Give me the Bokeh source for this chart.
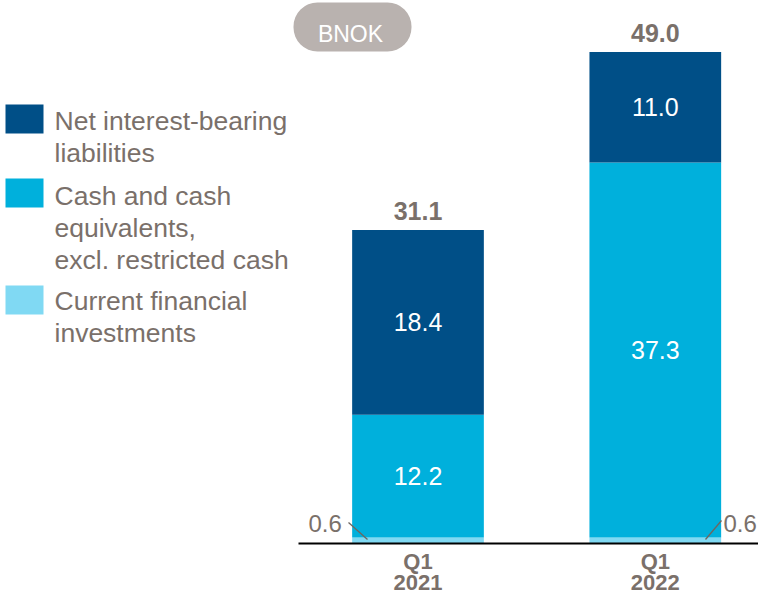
import numpy as np
from bokeh.plotting import figure
from bokeh.models import Range1d, BoxAnnotation
from bokeh.core.properties import value
from bokeh.embed import file_html
from bokeh.resources import INLINE

# ---------------- data ----------------
quarters = ["Q1", "Q1"]
years = ["2021", "2022"]
current_fin = [0.6, 0.6]          # Current financial investments
cash = [12.2, 37.3]               # Cash and cash equivalents, excl. restricted cash
net_debt = [18.4, 11.0]           # Net interest-bearing liabilities
totals = ["31.1", "49.0"]
unit_label = "BNOK"
legend_lines = [
    ["Net interest-bearing", "liabilities"],
    ["Cash and cash", "equivalents,", "excl. restricted cash"],
    ["Current financial", "investments"],
]

# ---------------- style ----------------
C_DARK = "#004f87"
C_CYAN = "#00b0dc"
C_LIGHT = "#80d9f3"
C_TEXT = "#7a706a"
FONT = "Liberation Sans"

W, H = 758, 597
PX_PER_UNIT = 10.05
BASE_Y = 543          # pixel row of the zero line
BAR1_X = 417.5        # pixel centre of first bar
SPACING = 237.3
BAR_W = 0.555

x0 = -BAR1_X / SPACING
x1 = x0 + W / SPACING
y0 = -(H - BASE_Y) / PX_PER_UNIT
y1 = BASE_Y / PX_PER_UNIT


def dx(X):
    return x0 + X / SPACING


def dy(Y):
    return (BASE_Y - Y) / PX_PER_UNIT


xs = np.arange(len(quarters), dtype=float)
b1 = np.array(current_fin)
b2 = b1 + np.array(cash)
b3 = b2 + np.array(net_debt)

p = figure(width=W, height=H, x_range=Range1d(x0, x1), y_range=Range1d(y0, y1),
           x_axis_type=None, y_axis_type=None, output_backend="svg",
           toolbar_location=None, min_border=0, outline_line_color=None)
p.background_fill_color = "white"
p.border_fill_color = "white"

# stacked bars
p.vbar(x=xs, width=BAR_W, bottom=0, top=b1, fill_color=C_LIGHT, line_color=None)
p.vbar(x=xs, width=BAR_W, bottom=b1, top=b2, fill_color=C_CYAN, line_color=None)
p.vbar(x=xs, width=BAR_W, bottom=b2, top=b3, fill_color=C_DARK, line_color=None)

# zero line
p.segment(x0=[dx(298)], y0=[0], x1=[x1], y1=[0], line_color="black", line_width=2)

# segment labels
p.text(x=xs, y=(b1 + b2) / 2, text=[f"{v:.1f}" for v in cash], text_color="white",
       text_font=value(FONT), text_font_size="25px", text_align="center",
       text_baseline="middle")
p.text(x=xs, y=(b2 + b3) / 2, text=[f"{v:.1f}" for v in net_debt], text_color="white",
       text_font=value(FONT), text_font_size="25px", text_align="center",
       text_baseline="middle")

# totals
p.text(x=xs, y=b3, text=totals, text_color=C_TEXT, text_font=value(FONT),
       text_font_size="25px", text_font_style="bold", text_align="center",
       text_baseline="middle", y_offset=-19)

# small 0.6 labels with leader lines
p.text(x=[xs[0] - BAR_W / 2], y=[current_fin[0]], text=[f"{current_fin[0]:.1f}"],
       text_color=C_TEXT, text_font=value(FONT), text_font_size="24px",
       text_align="center", text_baseline="middle", x_offset=-27, y_offset=-14)
p.text(x=[xs[1] + BAR_W / 2], y=[current_fin[1]], text=[f"{current_fin[1]:.1f}"],
       text_color=C_TEXT, text_font=value(FONT), text_font_size="24px",
       text_align="center", text_baseline="middle", x_offset=19, y_offset=-14)
p.segment(x0=[dx(348), dx(721)], y0=[dy(522), dy(520)],
          x1=[dx(367), dx(705)], y1=[dy(539), dy(539)],
          line_color="#6e6660", line_width=1.3)

# category labels
p.text(x=xs, y=[dy(561)] * 2, text=quarters, text_color=C_TEXT, text_font=value(FONT),
       text_font_size="22px", text_font_style="bold", text_align="center",
       text_baseline="middle")
p.text(x=xs, y=[dy(582)] * 2, text=years, text_color=C_TEXT, text_font=value(FONT),
       text_font_size="22px", text_font_style="bold", text_align="center",
       text_baseline="middle")

# unit badge
p.add_layout(BoxAnnotation(left=dx(293), right=dx(411), top=dy(2), bottom=dy(51),
                           fill_color="#b9b2af", fill_alpha=1, line_color=None,
                           border_radius=24, level="underlay"))
p.text(x=[dx(350)], y=[dy(33)], text=[unit_label], text_color="white",
       text_font=value(FONT), text_font_size="23px", text_align="center",
       text_baseline="middle")

# legend
sw_colors = [C_DARK, C_CYAN, C_LIGHT]
sw_tops = [104, 178, 285]
first_centers = [120, 195, 300]
for col, top, mid, lines in zip(sw_colors, sw_tops, first_centers, legend_lines):
    p.quad(left=[dx(5)], right=[dx(43)], top=[dy(top)], bottom=[dy(top + 29)],
           fill_color=col, line_color=None)
    p.text(x=[dx(54)] * len(lines), y=[dy(mid + 32 * i) for i in range(len(lines))],
           text=lines, text_color=C_TEXT, text_font=value(FONT), text_font_size="26.5px",
           text_align="left", text_baseline="middle")

open("out.html", "w").write(file_html(p, INLINE))
